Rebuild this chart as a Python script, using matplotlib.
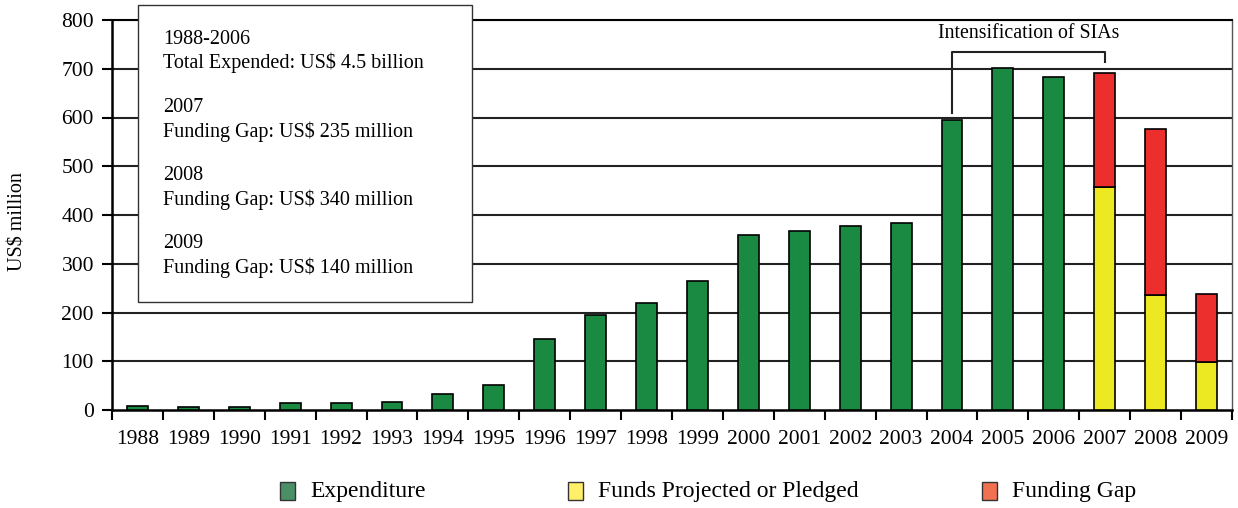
import matplotlib
matplotlib.use("Agg")
import matplotlib.pyplot as plt
from matplotlib.patches import Rectangle

plt.rcParams['font.family'] = ['Liberation Serif', 'DejaVu Serif']

years = [str(y) for y in range(1988, 2010)]
expenditure = [9, 7, 7, 14, 14, 17, 33, 52, 146, 195, 220, 265, 359, 367, 377, 384, 595, 701, 683, 0, 0, 0]
projected = [0]*19 + [457, 236, 98]
gap = [0]*19 + [235, 340, 140]
yticks = [0, 100, 200, 300, 400, 500, 600, 700, 800]
legend_labels = ["Expenditure", "Funds Projected or Pledged", "Funding Gap"]
box_lines = ["1988-2006", "Total Expended: US$ 4.5 billion",
             "2007", "Funding Gap: US$ 235 million",
             "2008", "Funding Gap: US$ 340 million",
             "2009", "Funding Gap: US$ 140 million"]

GREEN = "#1a8a42"
YELLOW = "#ece923"
RED = "#ec2e2c"

fig = plt.figure(figsize=(12.38, 5.08), dpi=100)
ax = fig.add_axes([112/1238, 1-410/508, (1232-112)/1238, (410-20)/508])

x = list(range(len(years)))
w = 0.41
for i in x:
    if expenditure[i] > 0:
        ax.bar(i, expenditure[i], width=w, color=GREEN, edgecolor="black", linewidth=1.2, zorder=3)
    if projected[i] > 0:
        ax.bar(i, projected[i], width=w, color=YELLOW, edgecolor="black", linewidth=1.2, zorder=3)
        ax.bar(i, gap[i], width=w, bottom=projected[i], color=RED, edgecolor="black", linewidth=1.2, zorder=3)

for yv in yticks[1:]:
    ax.axhline(yv, color="#222222", linewidth=1.5, zorder=1)

ax.set_xlim(-0.5, len(years)-0.5)
ax.set_ylim(0, 800)
ax.set_yticks(yticks)
ax.set_yticklabels([str(v) for v in yticks], fontsize=15.5)
ax.tick_params(axis='y', direction='out', length=7, width=1.5, pad=6)
ax.set_xticks([i - 0.5 for i in x] + [len(years)-0.5])
ax.set_xticklabels([])
ax.tick_params(axis='x', direction='out', length=7, width=1.5)
for i in x:
    ax.text(i, -40, years[i], ha='center', va='top', fontsize=15.5)

for side in ['left', 'bottom']:
    ax.spines[side].set_linewidth(1.8)
ax.spines['top'].set_linewidth(1.5)
ax.spines['right'].set_linewidth(1.0)
ax.spines['right'].set_color("#555555")

fig.text(18/1238, 1-222/508, "US$ million", rotation=90, ha='center', va='center', fontsize=14.5)

# bracket annotation
ax.plot([16, 16, 19, 19], [609, 734, 734, 714], color="#222222", linewidth=1.5, zorder=4, clip_on=False)
ax.text(17.5, 773, "Intensification of SIAs", ha='center', va='center', fontsize=14.3)

# info box
fig.patches.append(Rectangle((138/1238, 1-302/508), (472-138)/1238, 297/508,
                             transform=fig.transFigure, facecolor="white",
                             edgecolor="#333333", linewidth=1.0, zorder=5))
ys = [39, 63, 107, 132, 175, 200, 243, 268]
for yy, t in zip(ys, box_lines):
    fig.text(163/1238, 1-yy/508, t, ha='left', va='center', fontsize=14.5, zorder=6)

# legend
leg_colors = ["#4a8f66", "#fff06a", "#f07050"]
leg_x = [280, 568, 982]
for lx, c, lab in zip(leg_x, leg_colors, legend_labels):
    fig.patches.append(Rectangle((lx/1238, 1-500/508), 15/1238, 18/508,
                                 transform=fig.transFigure, facecolor=c,
                                 edgecolor="#333333", linewidth=1.0))
    fig.text((lx+30)/1238, 1-491/508, lab, ha='left', va='center', fontsize=17)

fig.savefig("out.png", dpi=100)
